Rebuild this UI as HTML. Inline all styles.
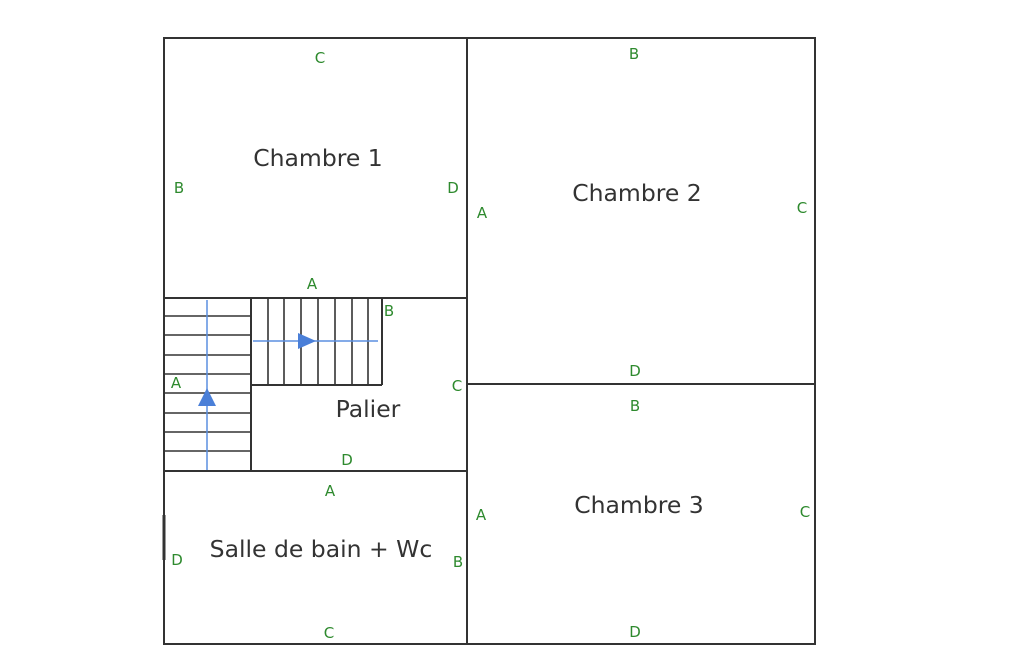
<!DOCTYPE html>
<html><head><style>
html,body{margin:0;padding:0;background:#fff;width:1025px;height:650px;overflow:hidden}
svg text{font-family:"DejaVu Sans","Liberation Sans",sans-serif}
.g{fill:#2e8a2e;font-size:15px}
.t{fill:#333;font-size:23.5px}
</style></head><body>
<svg width="1025" height="650" viewBox="0 0 1025 650" xmlns="http://www.w3.org/2000/svg">
<g stroke="#333" stroke-width="2" fill="none">
<rect x="164" y="38" width="651" height="606"/>
<line x1="467" y1="38" x2="467" y2="644"/>
<line x1="164" y1="298" x2="467" y2="298"/>
<line x1="467" y1="384" x2="815" y2="384"/>
<line x1="164" y1="471" x2="467" y2="471"/>
<line x1="251" y1="298" x2="251" y2="471"/>
<line x1="251" y1="385" x2="382" y2="385"/>
<line x1="382" y1="298" x2="382" y2="385"/>
<line x1="164" y1="515" x2="164" y2="560" stroke-width="3"/>
</g>
<g stroke="#333" stroke-width="1.6">
<line x1="164" y1="316" x2="251" y2="316"/>
<line x1="164" y1="335" x2="251" y2="335"/>
<line x1="164" y1="355" x2="251" y2="355"/>
<line x1="164" y1="374" x2="251" y2="374"/>
<line x1="164" y1="393" x2="251" y2="393"/>
<line x1="164" y1="413" x2="251" y2="413"/>
<line x1="164" y1="432" x2="251" y2="432"/>
<line x1="164" y1="451" x2="251" y2="451"/>
<line x1="268" y1="298" x2="268" y2="385"/>
<line x1="284" y1="298" x2="284" y2="385"/>
<line x1="301" y1="298" x2="301" y2="385"/>
<line x1="318" y1="298" x2="318" y2="385"/>
<line x1="335" y1="298" x2="335" y2="385"/>
<line x1="352" y1="298" x2="352" y2="385"/>
<line x1="368" y1="298" x2="368" y2="385"/>
</g>
<g stroke="#5b8fe0" stroke-width="1.5">
<line x1="207" y1="300" x2="207" y2="470"/>
<line x1="253" y1="341" x2="378" y2="341"/>
</g>
<polygon points="207,388 198,406 216,406" fill="#4a7fd8"/>
<polygon points="316,341 298,333 298,349" fill="#4a7fd8"/>
<g class="g" text-anchor="middle">
<text x="320" y="63">C</text>
<text x="179" y="193">B</text>
<text x="453" y="193">D</text>
<text x="312" y="289">A</text>
<text x="389" y="316">B</text>
<text x="176" y="388">A</text>
<text x="457" y="391">C</text>
<text x="347" y="465">D</text>
<text x="634" y="59">B</text>
<text x="482" y="218">A</text>
<text x="802" y="213">C</text>
<text x="635" y="376">D</text>
<text x="635" y="411">B</text>
<text x="330" y="496">A</text>
<text x="481" y="520">A</text>
<text x="805" y="517">C</text>
<text x="177" y="565">D</text>
<text x="458" y="567">B</text>
<text x="329" y="638">C</text>
<text x="635" y="637">D</text>
</g>
<g class="t" text-anchor="middle">
<text x="318" y="166">Chambre 1</text>
<text x="637" y="201">Chambre 2</text>
<text x="368" y="417">Palier</text>
<text x="639" y="513">Chambre 3</text>
<text x="321" y="557">Salle de bain + Wc</text>
</g>
</svg>
</body></html>
